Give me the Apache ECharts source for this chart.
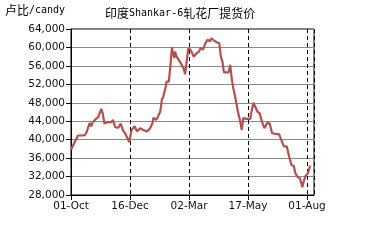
<!DOCTYPE html>
<html>
<head>
<meta charset="utf-8">
<script src="https://cdn.jsdelivr.net/npm/echarts@6/dist/echarts.min.js"></script>
<style>html,body{margin:0;padding:0;background:#fff}#c{width:374px;height:247px}</style>
</head>
<body>
<div id="c"></div>
<script>
// days since 01-Oct
var days = [0,2,9,11,15,18,20,24,26,28,30,32,35,39,41,43,47,52,54,57,61,64,67,70,75,78,82,85,89,93,98,102,105,106,110,112,115,117,119,120,122,123,126,128,130,133,134,136,138,140,145,147,151,154,158,162,165,167,170,173,176,179,181,185,188,191,193,195,197,203,205,207,209,211,213,215,218,220,222,224,226,231,232,235,237,240,243,246,249,251,253,256,259,265,268,271,274,278,281,284,287,289,292,295,298,300,302,305,308];
var prices = [37800,38000,40900,41300,40900,41000,41600,43600,42900,43800,43500,44500,44900,46700,45600,43500,43800,43800,44300,42700,42600,43500,42000,41300,39500,42100,42900,41800,42500,42100,41800,42500,43600,44700,44300,45000,46100,48600,49400,49000,51500,52600,52600,55900,60000,57700,59100,58000,58400,57000,55500,54200,59800,59500,58000,58800,59100,59900,59500,60900,61700,61300,62000,61400,61100,60900,58000,57000,54600,54600,56200,53300,51200,49700,47900,46100,43900,42100,44700,44300,44500,44500,45700,48000,47900,46100,45700,43900,42500,42200,43700,43500,41400,41200,41200,39900,38600,38500,36300,34500,34300,32700,31900,31600,29700,31100,32100,32700,34400];
var xTickLabels = ['01-Oct','16-Dec','02-Mar','17-May','01-Aug'];
var tickStep = 76;
var yMin = 28000, yMax = 64000, yStep = 4000;
var unitLabel = ['卢比', '/candy'];
var titleParts = ['印度', 'Shankar-6', '轧花厂提货价'];

var seriesData = days.map(function (d, i) { return [d, prices[i]]; });
var rich = {
  c: { fontFamily: 'Noto Sans CJK SC', fontSize: 12, fontWeight: 'normal', color: '#000' },
  m: { fontFamily: 'DejaVu Sans Mono', fontSize: 10, fontWeight: 'normal', color: '#000' }
};
var chart = echarts.init(document.getElementById('c'));
chart.setOption({
  animation: false,
  backgroundColor: '#fff',
  title: [{
    text: '{c|' + unitLabel[0] + '}{m|' + unitLabel[1] + '}',
    left: 5, top: 4, padding: 0,
    textStyle: { fontWeight: 'normal', rich: rich }
  }, {
    text: '{c|' + titleParts[0] + '}{m|' + titleParts[1] + '}{c|' + titleParts[2] + '}',
    left: 85, top: 4,
    padding: [3, 32, 9, 20],
    backgroundColor: '#fff',
    textStyle: { fontWeight: 'normal', rich: rich }
  }],
  grid: {
    left: 71, right: 60, top: 29, bottom: 52,
    show: true, borderColor: '#000', borderWidth: 1, backgroundColor: 'transparent'
  },
  xAxis: {
    type: 'value', min: 0, max: 313, interval: tickStep,
    axisLine: { lineStyle: { color: '#000', width: 1 } },
    axisTick: { show: true, length: 5, lineStyle: { color: '#000' } },
    axisLabel: {
      margin: 6, color: '#111', fontFamily: 'DejaVu Sans', fontSize: 10.5,
      showMaxLabel: false,
      formatter: function (v) { return v % tickStep === 0 ? (xTickLabels[v / tickStep] || '') : ''; }
    },
    splitLine: { show: true, lineStyle: { color: '#000', type: [4, 3], width: 1 } }
  },
  yAxis: {
    type: 'value', min: yMin, max: yMax, interval: yStep,
    axisLine: { show: true, lineStyle: { color: '#000', width: 1 } },
    axisTick: { show: true, length: 5, lineStyle: { color: '#000' } },
    axisLabel: {
      margin: 6, color: '#111', fontFamily: 'DejaVu Sans', fontSize: 10.5,
      formatter: function (v) { return v.toLocaleString('en-US'); }
    },
    splitLine: { show: true, lineStyle: { color: '#8a8a8a', width: 1 } }
  },
  series: [{
    type: 'line', data: seriesData, showSymbol: false, smooth: false,
    lineStyle: { color: '#b4504d', width: 2.2 }
  }]
});
</script>
</body>
</html>
